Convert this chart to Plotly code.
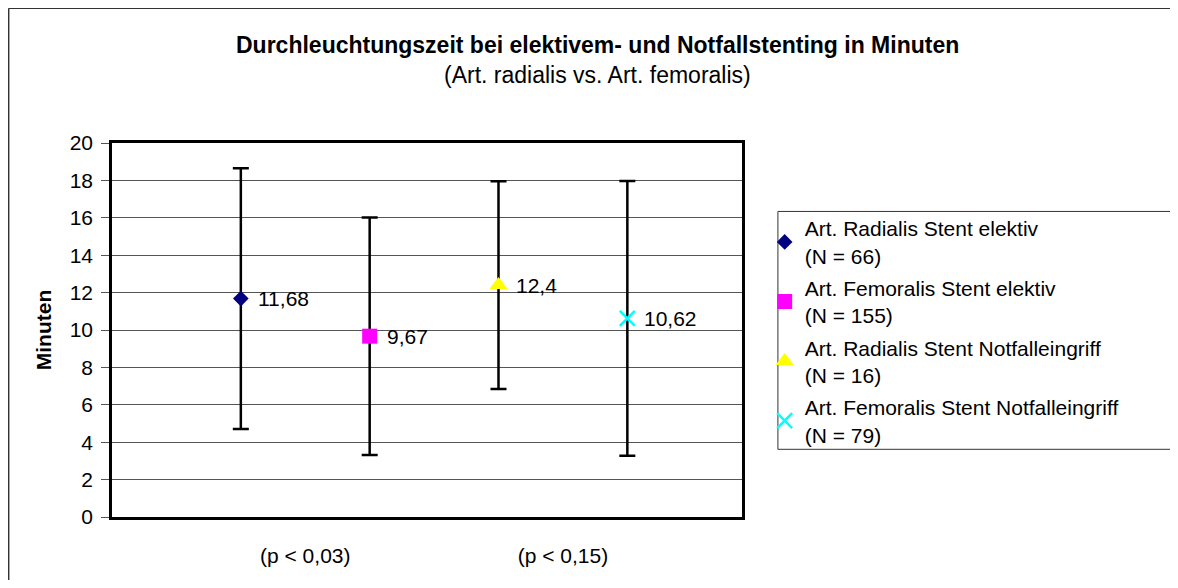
import plotly.graph_objects as go

# Durchleuchtungszeit (Minuten), Mittelwert +/- SD
gruppen = ['Art. Radialis Stent elektiv', 'Art. Femoralis Stent elektiv',
           'Art. Radialis Stent Notfalleingriff', 'Art. Femoralis Stent Notfalleingriff']
n_werte = [66, 155, 16, 79]
x_pos = [1, 2, 3, 4]
mittelwerte = [11.68, 9.67, 12.4, 10.62]
sd = [6.97, 6.35, 5.56, 7.35]
label_text = ['11,68', '9,67', '12,4', '10,62']
p_pos = [1.5, 3.5]
p_labels = ['(p < 0,03)', '(p < 0,15)']

symbole = ['diamond', 'square', 'triangle-up', 'x-thin']
farben = ['#000080', '#FF00FF', '#FFFF00', '#00FFFF']
groessen = [12, 15, 16, 15]

fnt = 'Liberation Sans, Arial, sans-serif'

fig = go.Figure()
for i in range(len(gruppen)):
    mk = dict(symbol=symbole[i], color=farben[i], size=groessen[i])
    if symbole[i] == 'x-thin':
        mk['line'] = dict(color=farben[i], width=2.5)
    fig.add_trace(go.Scatter(
        x=[x_pos[i]], y=[mittelwerte[i]],
        mode='markers',
        name=f'{gruppen[i]}<br>(N = {n_werte[i]})',
        legendgroup=f'g{i}',
        marker=mk,
        error_y=dict(type='data', array=[sd[i]], color='black', thickness=2.5, width=8),
        cliponaxis=False,
    ))
    # Datenbeschriftung rechts vom Punkt
    fig.add_annotation(x=x_pos[i], y=mittelwerte[i], text=label_text[i], showarrow=False,
                       xanchor='left', yanchor='middle', xshift=15,
                       font=dict(size=21, family=fnt, color='black'))

fig.update_layout(
    width=1162, height=572,
    margin=dict(l=104, r=428, t=135, b=63),
    plot_bgcolor='white', paper_bgcolor='white',
    font=dict(family=fnt, size=21, color='black'),
    legend=dict(x=1.036, y=0.826, xanchor='left', yanchor='top',
                bgcolor='rgba(0,0,0,0)', borderwidth=0,
                font=dict(size=21, family=fnt), tracegroupgap=2,
                itemsizing='trace'),
    showlegend=True,
)
fig.add_annotation(text='<b>Durchleuchtungszeit bei elektivem- und Notfallstenting in Minuten</b>',
                   xref='paper', yref='paper', x=0.771, y=1.261, xanchor='center',
                   yanchor='middle', showarrow=False, font=dict(size=23, family=fnt))
fig.add_annotation(text='(Art. radialis vs. Art. femoralis)', xref='paper', yref='paper',
                   x=0.771, y=1.181, xanchor='center', yanchor='middle',
                   showarrow=False, font=dict(size=23, family=fnt))

fig.update_xaxes(range=[0, 4.89], tickvals=p_pos, ticktext=p_labels,
                 showgrid=False, zeroline=False, showline=True, linecolor='black',
                 linewidth=2.5, mirror=True, ticks='', ticklabelstandoff=18,
                 tickfont=dict(size=21))
fig.update_yaxes(range=[0, 20], dtick=2, showgrid=True, gridcolor='#555', gridwidth=1,
                 zeroline=False, showline=True, linecolor='black', linewidth=2.5,
                 mirror=True, ticks='outside', ticklen=8, tickcolor='#555',
                 ticklabelstandoff=4, tickfont=dict(size=21),
                 title=dict(text='<b>Minuten</b>', font=dict(size=21), standoff=13))

# Legendenrahmen (rechts offen) und Diagrammrahmen (nur oben/links sichtbar)
rahmen = dict(color='#333', width=1)
fig.add_shape(type='line', xref='paper', yref='paper', x0=1.057, x1=1.75, y0=0.817, y1=0.817, line=rahmen)
fig.add_shape(type='line', xref='paper', yref='paper', x0=1.057, x1=1.75, y0=0.181, y1=0.181, line=rahmen)
fig.add_shape(type='line', xref='paper', yref='paper', x0=1.057, x1=1.057, y0=0.181, y1=0.817, line=rahmen)
rahmen2 = dict(color='#333', width=1.5)
fig.add_shape(type='line', xref='paper', yref='paper', x0=-0.164, x1=1.75, y0=1.360, y1=1.360, line=rahmen2)
fig.add_shape(type='line', xref='paper', yref='paper', x0=-0.164, x1=-0.164, y0=-0.2, y1=1.360, line=rahmen2)

fig.write_html('out.html')
